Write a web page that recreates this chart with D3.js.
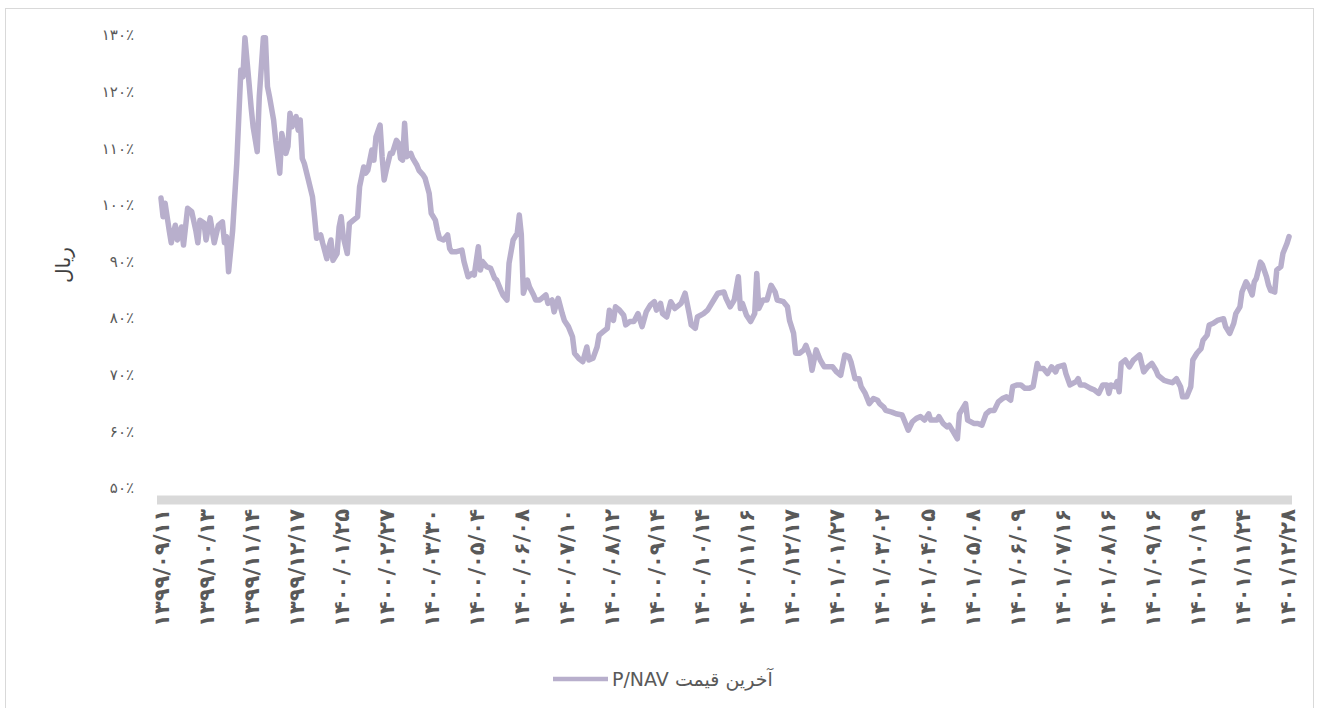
<!DOCTYPE html>
<html>
<head>
<meta charset="utf-8">
<script src="https://cdn.jsdelivr.net/npm/d3@7"></script>
<style>
html,body{margin:0;padding:0;background:#fff;}
svg{display:block;font-family:"DejaVu Sans",sans-serif;}
</style>
</head>
<body>
<svg id="chart" width="1319" height="708"></svg>
<script>
// ---- data ----
const xLabels = ["۱۳۹۹/۰۹/۱۱","۱۳۹۹/۱۰/۱۳","۱۳۹۹/۱۱/۱۴","۱۳۹۹/۱۲/۱۷","۱۴۰۰/۰۱/۲۵","۱۴۰۰/۰۲/۲۷","۱۴۰۰/۰۳/۳۰","۱۴۰۰/۰۵/۰۴","۱۴۰۰/۰۶/۰۸","۱۴۰۰/۰۷/۱۰","۱۴۰۰/۰۸/۱۲","۱۴۰۰/۰۹/۱۴","۱۴۰۰/۱۰/۱۴","۱۴۰۰/۱۱/۱۶","۱۴۰۰/۱۲/۱۷","۱۴۰۱/۰۱/۲۷","۱۴۰۱/۰۳/۰۲","۱۴۰۱/۰۴/۰۵","۱۴۰۱/۰۵/۰۸","۱۴۰۱/۰۶/۰۹","۱۴۰۱/۰۷/۱۶","۱۴۰۱/۰۸/۱۶","۱۴۰۱/۰۹/۱۶","۱۴۰۱/۱۰/۱۹","۱۴۰۱/۱۱/۲۴","۱۴۰۱/۱۲/۲۸"];
const labelStep = 22; // trading days between labels
const yTicks = [50,60,70,80,90,100,110,120,130];
const seriesName = "P/NAV آخرین قیمت";
const yTitle = "ریال";

const days = [0,1,2,4,5,6,7,8,10,11,13,15,17,18,19,21,22,24,25,26,28,30,31,32,33,35,37,39,40,41,43,44,45,47,48,50,51,52,53,55,56,58,59,61,62,63,64,66,67,68,69,70,72,74,75,76,78,79,81,82,83,84,86,87,88,89,91,92,94,96,97,99,100,101,103,104,105,107,108,109,110,112,113,115,116,117,118,119,120,122,123,125,126,128,129,131,132,134,135,136,
138,140,141,142,144,147,148,150,152,153,155,156,157,159,161,163,164,166,167,169,170,172,174,175,176,177,179,180,182,183,185,188,189,191,192,194,196,197,199,201,202,204,206,208,209,211,213,214,216,218,219,221,222,224,226,227,229,231,233,235,237,239,241,242,244,245,247,249,251,253,254,256,258,259,261,262,265,267,
270,272,275,276,278,280,282,283,284,286,288,290,291,292,294,296,298,300,301,304,306,307,309,310,312,314,315,317,318,320,322,324,326,328,330,332,334,336,337,339,341,342,344,346,348,350,351,353,354,357,359,362,363,365,367,369,371,373,375,376,379,380,382,384,385,387,389,390,393,394,397,399,401,403,405,407,
409,411,413,415,416,418,420,422,424,426,428,429,431,433,435,437,438,441,442,444,447,448,449,451,454,456,458,460,462,463,464,466,467,468,469,471,473,475,478,480,482,484,486,487,490,492,494,496,498,499,501,503,504,506,508,509,511,512,514,516,519,520,522,524,525,527,528,530,531,533,534,535,537,538,540,541,542,544,545,547,548,550,551];

const values = [101.2,97.9,100.3,95.5,93.3,95.0,96.4,93.8,96.1,92.9,99.4,98.8,95.5,93.3,97.3,96.8,93.8,97.7,95.5,93.3,96.4,97.0,93.3,94.4,88.2,95.5,107.3,123.8,122.6,129.5,121.5,117.3,113.8,109.4,119.1,129.5,129.5,120.9,119.1,115.0,111.4,105.6,112.6,109.1,110.3,116.2,113.8,115.6,113.2,115.0,108.2,107.3,104.4,101.4,97.9,94.1,94.7,93.2,90.5,92.6,93.8,90.2,91.4,96.1,97.9,94.4,91.4,96.7,97.3,97.9,103.2,106.7,105.6,106.1,109.7,107.9,112.0,114.1,108.5,104.4,106.1,109.1,109.1,111.4,110.9,108.2,107.9,114.4,108.5,109.1,108.2,107.0,106.1,105.3,104.7,102.0,98.5,97.3,95.5,94.1,
93.8,94.7,92.3,91.7,91.7,92.0,90.0,87.3,87.9,87.6,92.6,88.5,90.0,89.1,88.8,87.0,86.7,84.9,84.1,83.2,89.7,93.8,95.0,98.2,94.7,84.4,86.7,85.5,84.1,83.2,83.2,84.1,82.6,83.2,81.1,83.5,80.8,79.6,78.5,76.7,73.8,72.9,72.3,74.9,72.6,72.9,74.9,77.0,77.6,78.2,81.4,79.6,82.0,81.4,80.5,78.8,79.4,79.4,80.8,78.5,81.1,82.3,82.9,81.4,82.6,80.8,80.2,82.9,81.7,82.3,82.6,84.4,80.8,78.8,78.2,80.2,80.8,81.4,
83.2,84.4,84.6,83.5,82.0,83.2,87.3,81.7,82.6,80.5,79.4,80.8,87.9,81.7,83.2,83.2,85.8,84.6,83.2,82.9,82.0,79.6,77.3,73.8,73.8,74.4,75.2,73.2,70.8,74.4,72.6,71.4,71.4,71.4,70.5,69.9,73.5,73.2,72.3,69.3,69.3,67.9,66.7,64.9,65.8,65.5,64.9,64.3,63.7,63.4,63.1,62.9,62.0,60.2,61.7,62.3,62.6,62.0,63.1,62.0,62.0,62.6,61.4,60.8,61.1,59.9,58.7,63.1,64.9,62.0,61.4,61.4,61.1,63.1,63.7,63.7,
65.2,65.8,66.1,65.5,67.9,68.2,68.2,67.6,67.6,67.9,72.0,71.1,71.1,70.2,71.4,70.5,71.4,71.7,70.2,68.2,68.8,69.3,68.2,68.2,67.6,67.3,66.7,68.2,68.2,66.7,68.2,67.9,68.8,67.0,72.0,72.6,71.4,72.6,73.5,70.5,71.4,72.0,70.8,69.9,69.0,68.8,68.6,69.3,67.9,66.1,66.1,67.9,72.6,73.8,74.6,76.1,77.0,78.8,79.1,79.6,79.9,78.5,77.3,79.1,80.8,82.0,84.6,86.4,85.8,84.1,86.4,87.0,89.9,89.4,87.3,85.8,84.9,84.6,88.5,89.1,91.4,93.2,94.4];

// ---- drawing ----
const toFa = s => String(s).replace(/\d/g, d => "۰۱۲۳۴۵۶۷۸۹"[d]);
const svg = d3.select("#chart");

// outer frame
svg.append("rect").attr("x",5.5).attr("y",8.5).attr("width",1308).attr("height",720)
  .attr("fill","none").attr("stroke","#d9d9d9").attr("stroke-width",1);

const x = d3.scaleLinear().domain([0, labelStep*(xLabels.length-1)]).range([161, 1287]);
const y = d3.scaleLinear().domain([50,130]).range([488, 35]);

// y axis labels
const yAxis = d3.axisLeft(y).tickValues(yTicks).tickSize(0).tickPadding(0)
  .tickFormat(d => toFa(d) + "٪");
const gy = svg.append("g").attr("transform","translate(134,0)").call(yAxis);
gy.select(".domain").remove();
gy.selectAll("text").attr("fill","#595959").attr("font-size",15)
  .attr("letter-spacing","1.5px").style("font-family",'"DejaVu Sans",sans-serif');

// y title
svg.append("text").attr("transform","translate(70,265) rotate(-90)")
  .attr("text-anchor","middle").attr("fill","#404040").attr("font-size",20)
  .text(yTitle);

// x axis band
svg.append("line").attr("x1",157).attr("x2",1292).attr("y1",500).attr("y2",500)
  .attr("stroke","#d9d9d9").attr("stroke-width",9);

// x labels
const xAxis = d3.axisBottom(x).tickValues(xLabels.map((_,i)=>i*labelStep))
  .tickSize(0).tickPadding(0).tickFormat((d,i)=>xLabels[i]);
const gx = svg.append("g").attr("transform","translate(0,509)").call(xAxis);
gx.select(".domain").remove();
gx.selectAll("text")
  .attr("transform","rotate(-90)")
  .attr("x",0).attr("y",0).attr("dy","0.35em")
  .attr("text-anchor","end")
  .attr("fill","#595959").attr("font-size",21).attr("font-weight","bold")
  .style("font-family",'"DejaVu Sans",sans-serif');

// line
const pts = days.map((d,i)=>({d, v: values[i]}));
const line = d3.line().x(p=>x(p.d)).y(p=>y(p.v)).curve(d3.curveLinear);
svg.append("path").datum(pts).attr("d",line)
  .attr("fill","none").attr("stroke","#b8afcc").attr("stroke-width",5.5)
  .attr("stroke-linejoin","round").attr("stroke-linecap","round");

// legend
const lg = svg.append("g");
lg.append("line").attr("x1",553).attr("x2",608).attr("y1",679).attr("y2",679)
  .attr("stroke","#b8afcc").attr("stroke-width",4.5);
lg.append("text").attr("x",612).attr("y",679).attr("dy","0.35em")
  .attr("fill","#595959").attr("font-size",19).text(seriesName);
</script>
</body>
</html>
